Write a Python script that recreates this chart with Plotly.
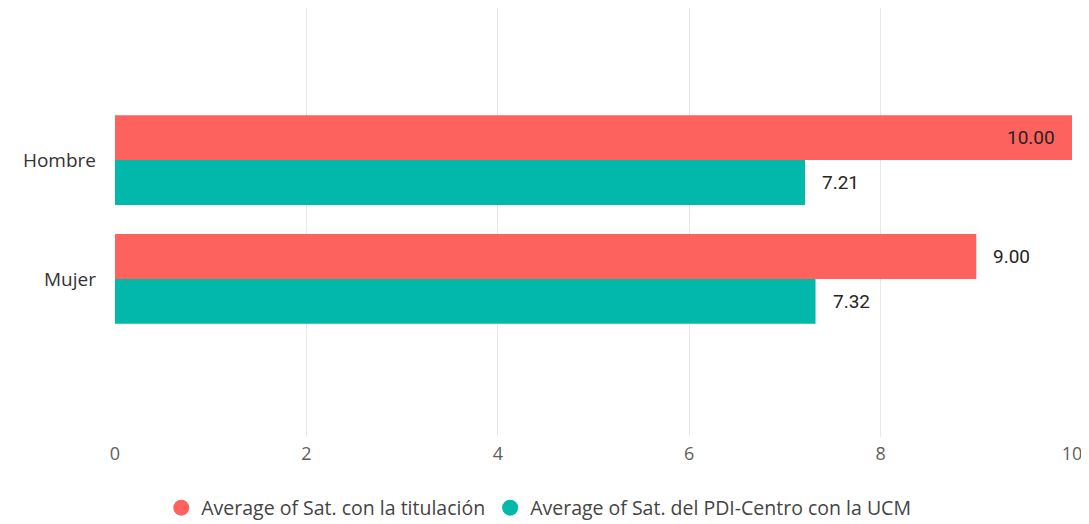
import plotly.graph_objects as go

categories = ["Hombre", "Mujer"]
sat_titulacion = [10.00, 9.00]
sat_pdi_ucm = [7.21, 7.32]
series_names = ["Average of Sat. con la titulación", "Average of Sat. del PDI-Centro con la UCM"]
colors = ["#FD625E", "#01B8AA"]
x_ticks = [0, 2, 4, 6, 8, 10]

FONT = "Open Sans, Noto Sans, sans-serif"
LABEL_FONT = "Roboto, Open Sans, sans-serif"

fig = go.Figure()
# teal first so that red is drawn above within each group (horizontal grouping)
fig.add_trace(go.Bar(
    y=categories, x=sat_pdi_ucm, orientation="h", name=series_names[1],
    marker=dict(color=colors[1], line=dict(width=0)), showlegend=False,
    hoverinfo="x+name"))
fig.add_trace(go.Bar(
    y=categories, x=sat_titulacion, orientation="h", name=series_names[0],
    marker=dict(color=colors[0], line=dict(width=0)), showlegend=False,
    hoverinfo="x+name"))

# legend entries with circle markers
for name, col in zip(series_names, colors):
    fig.add_trace(go.Scatter(
        x=[None], y=[None], mode="markers", name=name,
        marker=dict(symbol="circle", size=16, color=col), showlegend=True))

xmax = 10
for vals, off in ((sat_titulacion, 0.19), (sat_pdi_ucm, -0.19)):
    for cat, v in zip(categories, vals):
        inside = v >= xmax * 0.95
        fig.add_annotation(
            x=v, y=cat, yshift=off * 119, xref="x", yref="y",
            text=f"{v:.2f}", showarrow=False,
            xanchor="right" if inside else "left",
            xshift=-15 if inside else 15,
            font=dict(family=LABEL_FONT, size=19, color="#252423"))

fig.update_layout(
    width=1081, height=516,
    margin=dict(l=107, r=17, t=0, b=87),
    paper_bgcolor="white", plot_bgcolor="white",
    barmode="group", bargap=0.244, bargroupgap=0,
    font=dict(family=FONT, size=19, color="#605E5C"),
    xaxis=dict(range=[0, 10], tickvals=x_ticks, showgrid=True, gridcolor="#E8E8E8",
               gridwidth=1, zeroline=False, showline=False, ticks="",
               ticklabelstandoff=4,
               tickfont=dict(size=18, color="#605E5C"), fixedrange=True),
    yaxis=dict(categoryorder="array", categoryarray=["Mujer", "Hombre"],
               range=[-1.33, 2.28], showgrid=False, zeroline=False, showline=False,
               ticks="", ticklabelstandoff=18,
               tickfont=dict(size=19, color="#333333"), fixedrange=True),
    legend=dict(orientation="h", xref="container", yref="container",
                x=0.491, xanchor="center", y=0.031, yanchor="middle",
                font=dict(size=19.5, color="#444444"),
                traceorder="normal", itemwidth=30, itemclick=False),
    showlegend=True,
)

fig.write_html("out.html")
